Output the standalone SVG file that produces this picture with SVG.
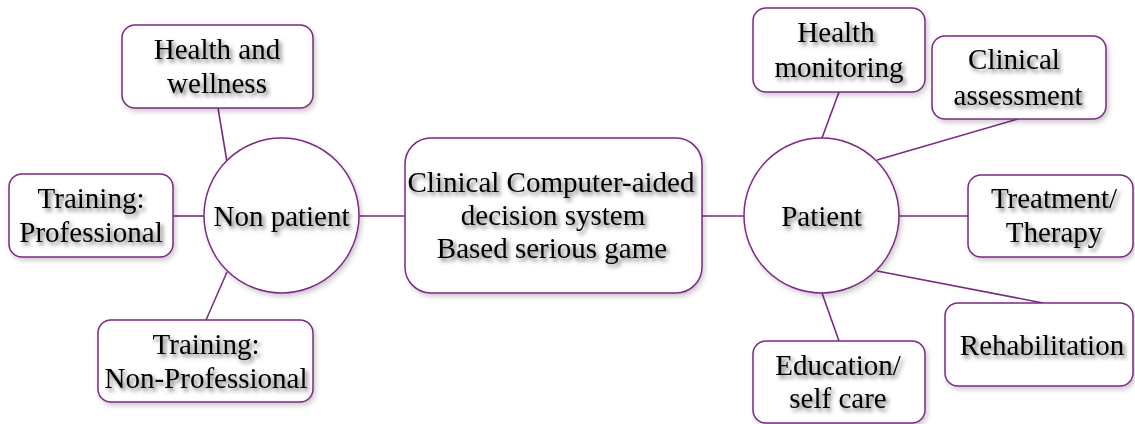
<svg xmlns="http://www.w3.org/2000/svg" width="1135" height="424" viewBox="0 0 1135 424">
<defs>
<filter id="ts" x="-10%" y="-30%" width="130%" height="170%">
<feDropShadow dx="2.5" dy="3" stdDeviation="2" flood-color="#000" flood-opacity="0.6"/>
</filter>
<filter id="bs" x="-10%" y="-10%" width="130%" height="130%">
<feDropShadow dx="2" dy="3" stdDeviation="2.5" flood-color="#000" flood-opacity="0.2"/>
</filter>
</defs>
<style>
.box{fill:#fff;stroke:#7B2A82;stroke-width:1.5;filter:url(#bs)}
.ln{stroke:#7B2A82;stroke-width:1.6;fill:none}
text{font-family:"Liberation Serif","Times New Roman",serif;font-size:29px;fill:#000;text-anchor:middle;filter:url(#ts)}
</style>
<rect width="1135" height="424" fill="#fff"/>
<g id="connectors">
<line class="ln" x1="218" y1="108" x2="227" y2="162"/>
<line class="ln" x1="173" y1="216" x2="204" y2="216"/>
<line class="ln" x1="206" y1="320" x2="227" y2="272"/>
<line class="ln" x1="359" y1="216" x2="405" y2="216"/>
<line class="ln" x1="702" y1="216" x2="744" y2="216"/>
<line class="ln" x1="839" y1="92" x2="822" y2="138"/>
<line class="ln" x1="1018" y1="119" x2="877" y2="160"/>
<line class="ln" x1="899" y1="216" x2="968" y2="216"/>
<line class="ln" x1="877" y1="271" x2="1043" y2="303"/>
<line class="ln" x1="822" y1="293" x2="839" y2="341"/>
</g>
<g id="health-wellness">
<rect class="box" x="122" y="25" width="191" height="83" rx="13"/>
<text x="217" y="59">Health and</text>
<text x="217" y="93">wellness</text>
</g>
<g id="training-professional">
<rect class="box" x="9" y="174" width="164" height="83" rx="13"/>
<text x="91" y="208">Training:</text>
<text x="91" y="242">Professional</text>
</g>
<g id="training-nonprofessional">
<rect class="box" x="98" y="320" width="215" height="82" rx="13"/>
<text x="206" y="354">Training:</text>
<text x="206" y="388">Non-Professional</text>
</g>
<g id="non-patient">
<circle class="box" cx="281.5" cy="215.5" r="77.5"/>
<text x="281.5" y="226">Non patient</text>
</g>
<g id="center">
<rect class="box" x="405" y="138" width="297" height="155" rx="26"/>
<text x="551" y="192">Clinical Computer-aided</text>
<text x="553" y="225">decision system</text>
<text x="552" y="258">Based serious game</text>
</g>
<g id="patient">
<circle class="box" cx="821.5" cy="215.5" r="77.5"/>
<text x="821.5" y="226">Patient</text>
</g>
<g id="health-monitoring">
<rect class="box" x="753" y="8" width="172" height="84" rx="13"/>
<text x="836" y="42">Health</text>
<text x="839" y="77">monitoring</text>
</g>
<g id="clinical-assessment">
<rect class="box" x="932" y="36" width="174" height="83" rx="13"/>
<text x="1014" y="69">Clinical</text>
<text x="1018" y="105">assessment</text>
</g>
<g id="treatment-therapy">
<rect class="box" x="968" y="175" width="165" height="82" rx="13"/>
<text x="1054" y="208">Treatment/</text>
<text x="1054" y="242">Therapy</text>
</g>
<g id="rehabilitation">
<rect class="box" x="945" y="303" width="188" height="83" rx="13"/>
<text x="1042" y="355">Rehabilitation</text>
</g>
<g id="education-selfcare">
<rect class="box" x="753" y="341" width="172" height="82" rx="13"/>
<text x="838" y="375">Education/</text>
<text x="838" y="408">self care</text>
</g>
</svg>
